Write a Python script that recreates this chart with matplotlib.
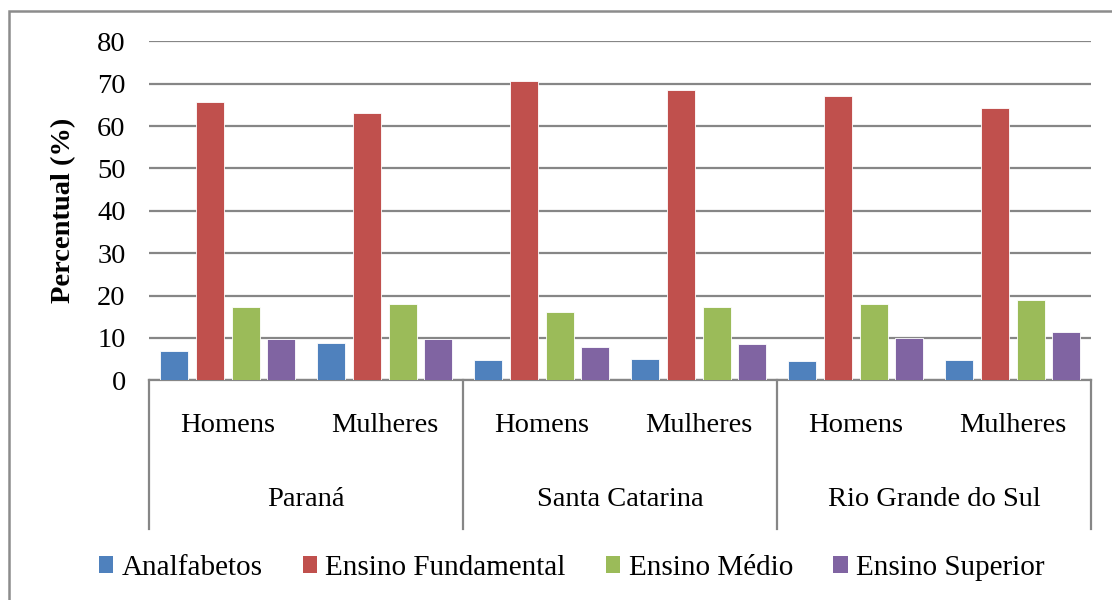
import matplotlib
matplotlib.use("Agg")
import matplotlib.pyplot as plt
from matplotlib.patches import Rectangle, Patch
from matplotlib.lines import Line2D
import matplotlib.transforms as mtransforms

plt.rcParams['font.family'] = ['Liberation Serif', 'DejaVu Serif']

# Data
states = ["Paraná", "Santa Catarina", "Rio Grande do Sul"]
sexes = ["Homens", "Mulheres"]
series_names = ["Analfabetos", "Ensino Fundamental", "Ensino Médio", "Ensino Superior"]
analfabetos = [6.8, 8.8, 4.8, 5.1, 4.5, 4.7]
fundamental = [65.6, 63.0, 70.7, 68.4, 67.1, 64.3]
medio = [17.2, 18.0, 16.1, 17.3, 18.0, 19.0]
superior = [9.7, 9.7, 7.8, 8.6, 10.0, 11.5]
colors = ["#4F81BD", "#C0504D", "#9BBB59", "#8064A2"]

W, H = 1112, 600
fig = plt.figure(figsize=(W / 100, H / 100), dpi=100)
ax = fig.add_axes([149.3 / W, 1 - 380.3 / H, (1091.3 - 149.3) / W, (380.3 - 41.3) / H])

series = [analfabetos, fundamental, medio, superior]
n_cat = len(states) * len(sexes)
xs = list(range(n_cat))
slot = 0.2274
bar_w = 0.18
for i, (vals, c) in enumerate(zip(series, colors)):
    offs = (i - 1.5) * slot
    ax.bar([x + offs for x in xs], vals, width=bar_w, color=c,
           edgecolor="white", linewidth=0.6, zorder=3)

ax.set_xlim(-0.5, n_cat - 0.5)
ax.set_ylim(0, 80)
ax.set_yticks(range(0, 81, 10))
ax.yaxis.grid(True, color="#868686", linewidth=1.6, zorder=0)
ax.set_axisbelow(True)
ax.tick_params(axis="y", length=0, pad=17, labelsize=20.5)
ax.set_xticks([])
for s in ["top", "right", "left"]:
    ax.spines[s].set_visible(False)
ax.spines["bottom"].set_color("#868686")
ax.spines["bottom"].set_linewidth(1.6)

ax.set_ylabel("Percentual (%)", fontsize=20.5, fontweight="bold", labelpad=15)

# Two-level category axis
trans = mtransforms.blended_transform_factory(ax.transData, ax.transAxes)
for k in range(n_cat):
    ax.text(k, -0.132, sexes[k % 2], transform=trans, ha="center", va="center",
            fontsize=20.5)
for g, st in enumerate(states):
    ax.text(2 * g + 0.5, -0.353, st, transform=trans, ha="center", va="center",
            fontsize=20.5)
for b in [-0.5, 1.5, 3.5, 5.5]:
    ax.add_line(Line2D([b, b], [0, -0.4386], transform=trans, color="#868686",
                       linewidth=1.6, clip_on=False))

# Legend
handles = [Patch(facecolor=c, edgecolor="none") for c in colors]
fig.legend(handles, series_names, loc="center", bbox_to_anchor=(571.5 / W, 1 - 568 / H),
           ncol=4, frameon=False, fontsize=21, handlelength=0.5, handleheight=0.5,
           handletextpad=0.28, columnspacing=1.38, borderaxespad=0)

# Chart border
fig.add_artist(Rectangle((8.5 / W, -0.1), 1.2, 1.1 - 11 / H, transform=fig.transFigure,
                         fill=False, edgecolor="#8c8c8c", linewidth=1.8))

fig.savefig("out.png", dpi=100)
